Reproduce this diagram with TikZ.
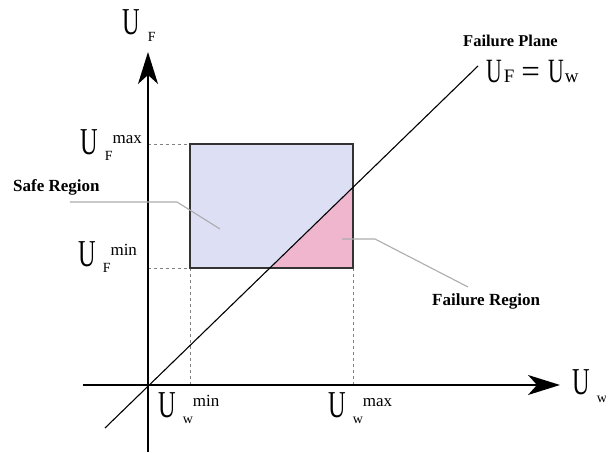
\documentclass[tikz,border=0pt]{standalone}
\usepackage{fontspec}
\setmainfont{Liberation Serif}
\usepackage{graphicx}
\usetikzlibrary{arrows.meta}

\definecolor{safecol}{RGB}{221,223,245}
\definecolor{failcol}{RGB}{240,182,206}
\definecolor{leadcol}{RGB}{172,172,172}

\newcommand{\bigU}[1][38]{{\fontsize{#1}{#1}\selectfont\scalebox{0.64}[1]{U}}}
\newcommand{\Ulabel}[2]{\bigU\hspace{7pt}\raisebox{-6pt}{\fontsize{14}{14}\selectfont #1}\raisebox{11pt}{\fontsize{17}{17}\selectfont #2}}

\begin{document}
\begin{tikzpicture}[x=1pt,y=1pt,>={Stealth[length=32pt,width=20pt,inset=9pt]}]
  \useasboundingbox (-148,-67) rectangle (458,385);
  \tikzset{axis/.style={line width=1.7pt},
    guide/.style={gray,line width=0.8pt,dash pattern=on 3pt off 3pt},
    leader/.style={leadcol,line width=1.1pt},
    region/.style={font=\fontsize{17}{17}\selectfont\bfseries,anchor=base west,inner sep=0pt}}
  \coordinate (O) at (0,0);
  \coordinate (P1) at (-43,-43);
  \coordinate (P2) at (330,319);
  \coordinate (A) at (42,117);
  \coordinate (B) at (205,117);
  \coordinate (C) at (205,241);
  \coordinate (D) at (42,241);
  \coordinate (X1) at (intersection of P1--P2 and A--B);
  \coordinate (X2) at (intersection of P1--P2 and B--C);
  % regions
  \fill[safecol] (A) rectangle (C);
  \fill[failcol] (X1)--(B)--(X2)--cycle;
  \draw[guide] (0,241)--(D);
  \draw[guide] (0,117)--(A)--(42,0);
  \draw[guide] (B)--(205,0);
  \draw[line width=1.2pt,black!80] (A) rectangle (C);
  % failure plane
  \draw[line width=1.1pt] (P1)--(P2);
  % axes
  \draw[axis,->] (-65,0)--(412,0);
  \draw[axis,->] (0,-67)--(0,333);
  % labels
  \node[anchor=base west,inner sep=0pt] (UF) at (-26,350)
    {\bigU\hspace{8pt}\raisebox{-7pt}{\fontsize{14}{14}\selectfont F}};
  \node[anchor=base west,inner sep=0pt] (UW) at (424,-10)
    {\bigU\hspace{7pt}\raisebox{-8pt}{\fontsize{14}{14}\selectfont w}};
  \node[anchor=base west,inner sep=0pt] (Fmax) at (-68,230) {\Ulabel{F}{max}};
  \node[anchor=base west,inner sep=0pt] (Fmin) at (-70,118) {\Ulabel{F}{min}};
  \node[anchor=base west,inner sep=0pt] (Wmin) at (10,-33) {\Ulabel{w}{min}};
  \node[anchor=base west,inner sep=0pt] (Wmax) at (180,-33) {\Ulabel{w}{max}};
  \node[region,font=\fontsize{16.5}{16.5}\selectfont\bfseries] (plane) at (315,338) {Failure Plane};
  \node[anchor=base west,inner sep=0pt] (eq) at (338,302)
    {\bigU[34]\hspace{2pt}{\fontsize{19}{19}\selectfont F}\hspace{7pt}{\fontsize{33}{33}\selectfont=}\hspace{8pt}\bigU[34]\hspace{1pt}{\fontsize{19}{19}\selectfont w}};
  \node[region] (safe) at (-135,193) {Safe Region};
  \node[region] (fail) at (284,79) {Failure Region};
  % leaders
  \coordinate (s1) at (-78,183);
  \coordinate (s2) at (29,183);
  \coordinate (s3) at (72,156);
  \coordinate (f1) at (194,146);
  \coordinate (f2) at (227,146);
  \coordinate (f3) at (320,98);
  \draw[leader] (s1)--(s2)--(s3);
  \draw[leader] (f1)--(f2)--(f3);
\end{tikzpicture}
\end{document}
